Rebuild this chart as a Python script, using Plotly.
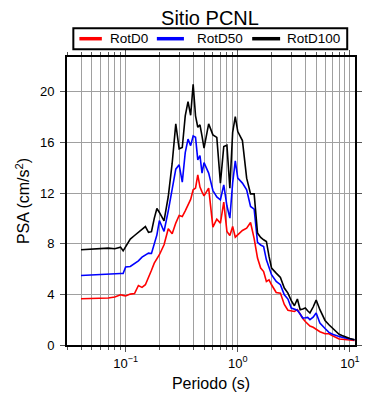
import plotly.graph_objects as go
import numpy as np

periods = [0.04, 0.05, 0.06, 0.07, 0.08, 0.09, 0.095, 0.1, 0.11, 0.12, 0.13, 0.14, 0.15,
           0.16, 0.17, 0.18, 0.19, 0.2, 0.22, 0.24, 0.26, 0.28, 0.3, 0.32, 0.34, 0.36,
           0.38, 0.4, 0.42, 0.44, 0.46, 0.48, 0.5, 0.55, 0.6, 0.65, 0.7, 0.75, 0.8, 0.85,
           0.9, 0.95, 1.0, 1.1, 1.2, 1.3, 1.4, 1.5, 1.6, 1.7, 1.8, 1.9, 2.0, 2.2, 2.4,
           2.6, 2.8, 3.0, 3.2, 3.4, 3.6, 3.8, 4.0, 4.2, 4.4, 4.7, 5.0, 5.4, 6.0, 6.5,
           7.0, 7.5, 8.0, 8.5, 9.0, 9.5, 10.0, 11.0]

rotd100 = [7.52, 7.55, 7.62, 7.65, 7.6, 7.73, 7.44, 7.8, 8.37, 8.65, 8.92, 9.2, 9.36,
           8.9, 8.95, 10.0, 10.78, 10.47, 9.81, 11.73, 14.36, 17.47, 15.5, 15.6, 18.1, 19.23,
           18.15, 20.6, 18.1, 17.2, 17.39, 16.5, 15.55, 17.47, 16.6, 16.4, 12.79, 15.68, 15.78, 12.39,
           16.8, 18.04, 16.86, 16.15, 13.18, 11.94, 11.94, 8.84, 8.5, 8.31, 8.18, 7.0, 6.08, 5.68, 5.34,
           4.5, 4.1, 3.5, 3.1, 3.63, 2.79, 2.85, 2.92, 2.7, 2.53, 3.0, 3.55, 2.79, 1.94, 1.6,
           1.34, 1.1, 0.85, 0.75, 0.66, 0.58, 0.52, 0.42]

rotd50 = [5.49, 5.55, 5.6, 5.63, 5.63, 5.65, 5.65, 6.16, 6.2, 6.4, 6.65, 6.94, 7.1,
          7.26, 7.23, 7.9, 8.7, 9.83, 8.97, 10.6, 12.4, 13.89, 14.23, 12.86, 15.2, 16.26,
          15.75, 16.52, 16.41, 14.62, 14.97, 13.58, 14.41, 13.58, 12.2, 11.7, 11.47, 12.65, 11.0, 10.02,
          12.8, 14.55, 13.18, 12.79, 12.26, 10.94, 10.73, 8.1, 7.9, 7.78, 6.73, 6.1, 5.55, 5.02, 4.76,
          3.97, 3.63, 2.92, 2.82, 2.75, 2.45, 2.13, 2.15, 2.18, 2.0, 2.2, 2.53, 1.74, 1.3, 1.0,
          0.85, 0.74, 0.68, 0.62, 0.56, 0.52, 0.48, 0.42]

rotd0 = [3.65, 3.67, 3.69, 3.71, 3.79, 3.97, 3.92, 3.87, 4.02, 4.07, 4.7, 4.55, 4.76,
         5.3, 5.9, 6.47, 6.8, 7.13, 7.92, 9.18, 8.78, 9.63, 10.23, 10.15, 10.6, 11.1,
         11.5, 12.26, 12.39, 13.44, 12.47, 12.1, 11.78, 12.39, 9.31, 9.94, 9.63, 11.29, 8.97, 8.65,
         9.36, 8.52, 8.7, 9.05, 9.23, 9.68, 8.4, 6.87, 6.08, 5.8, 5.02, 5.15, 4.76, 4.15, 4.1,
         3.2, 2.75, 2.68, 2.65, 2.79, 2.4, 2.1, 1.86, 1.7, 1.5, 1.4, 1.26, 1.05, 0.89, 0.89,
         0.73, 0.6, 0.47, 0.45, 0.42, 0.4, 0.38, 0.36]

series_names = ["RotD0", "RotD50", "RotD100"]
series_colors = ["#ff0000", "#0000ff", "#000000"]
series_values = [rotd0, rotd50, rotd100]

x_tickvals = [0.1, 1, 10]
x_ticktext = ["10<sup>\u22121</sup>", "10<sup>0</sup>", "10<sup>1</sup>"]
y_tickvals = [0, 4, 8, 12, 16, 20]

minor_vals = [m * 10.0 ** e for e in (-2, -1, 0) for m in range(2, 10)]
minor_vals = [v for v in minor_vals if 0.03 <= v <= 11.1]

fig = go.Figure()
for name, color, vals in zip(series_names, series_colors, series_values):
    fig.add_trace(go.Scatter(x=periods, y=vals, mode="lines", name=name,
                             line=dict(color=color, width=1.6), showlegend=False))

# Legend drawn as a boxed row above the plot (paper coordinates)
leg_line_x = [(0.043, 0.121), (0.312, 0.406), (0.643, 0.740)]
leg_text_x = [0.141, 0.444, 0.757]
leg_y = 1.0635
fig.add_shape(type="rect", xref="paper", yref="paper", x0=0.022, x1=0.973,
              y0=1.027, y1=1.0996, line=dict(color="black", width=2), fillcolor="white")
for name, color, (lx0, lx1), tx in zip(series_names, series_colors, leg_line_x, leg_text_x):
    fig.add_shape(type="line", xref="paper", yref="paper", x0=lx0, x1=lx1,
                  y0=leg_y, y1=leg_y, line=dict(color=color, width=3.5))
    fig.add_annotation(text=name, xref="paper", yref="paper", x=tx, y=leg_y,
                       xanchor="left", yanchor="middle", showarrow=False,
                       font=dict(size=13.5, color="black"))

font_family = "Liberation Sans, Arial, sans-serif"
fig.update_layout(
    width=382, height=392,
    margin=dict(l=59, r=35, t=49, b=55, autoexpand=False),
    paper_bgcolor="white", plot_bgcolor="white",
    font=dict(family=font_family, size=13, color="black"),
    title=dict(text="Sitio PCNL", xref="paper", x=0.4965, xanchor="center",
               y=0.975, yanchor="middle", font=dict(size=20, color="black")),
    showlegend=False,
)
fig.update_xaxes(
    type="log", range=[np.log10(0.03), np.log10(11.1)], automargin=False,
    tickmode="array", tickvals=x_tickvals, ticktext=x_ticktext,
    ticks="outside", ticklen=5, tickcolor="#555555", tickwidth=1,
    showline=True, linecolor="black", linewidth=2, mirror="ticks",
    showgrid=True, gridcolor="#a0a0a0", gridwidth=1,
    minor=dict(tickvals=minor_vals, ticks="outside", ticklen=3, tickcolor="#555555",
               showgrid=True, gridcolor="#a0a0a0", gridwidth=1),
    tickfont=dict(size=13),
    title=dict(text="Periodo (s)", font=dict(size=16), standoff=8),
    zeroline=False,
)
fig.update_yaxes(
    range=[0, 22.75], tickmode="array", tickvals=y_tickvals, automargin=False,
    ticks="outside", ticklen=5, tickcolor="#555555", tickwidth=1,
    showline=True, linecolor="black", linewidth=2, mirror="ticks",
    showgrid=True, gridcolor="#a0a0a0", gridwidth=1,
    tickfont=dict(size=13), ticklabelstandoff=3,
    title=dict(text="PSA (cm/s<sup>2</sup>)", font=dict(size=16), standoff=6),
    zeroline=False,
)
fig.write_html("out.html")
